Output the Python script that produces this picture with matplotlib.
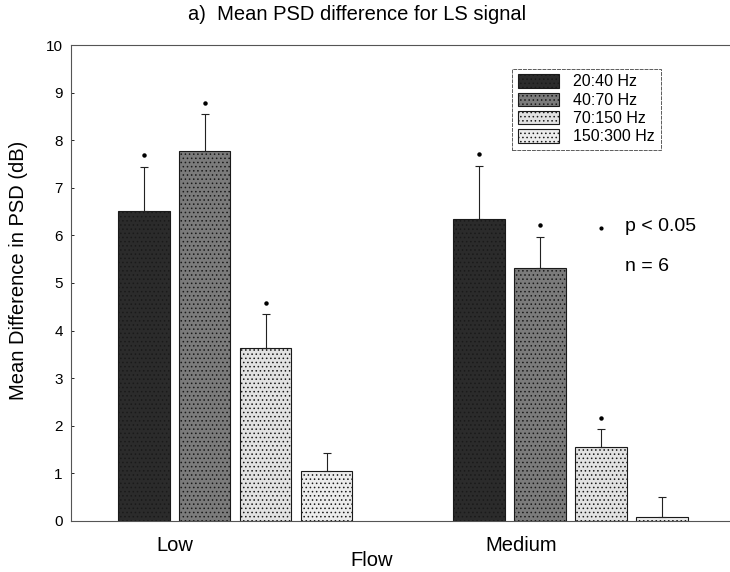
import numpy as np
import matplotlib.pyplot as plt

plt.rcParams['font.family'] = ['Liberation Sans', 'DejaVu Sans']

# mean PSD difference (dB) per band, for each flow level
flows = ['Low', 'Medium']
bands = ['20:40 Hz', '40:70 Hz', '70:150 Hz', '150:300 Hz']
low_mean = [6.52, 7.77, 3.63, 1.04]
low_err = [0.92, 0.78, 0.72, 0.38]
med_mean = [6.34, 5.31, 1.56, 0.09]
med_err = [1.12, 0.66, 0.37, 0.41]
low_sig = [True, True, True, False]
med_sig = [True, True, True, False]

faces = ['#2b2b2b', '#7b7b7b', '#e2e2e2', '#ececec']
hatches = ['....', '....', '....', '....']
hatch_cols = ['#5a5a5a', '#a5a5a5', '#9a9a9a', '#b0b0b0']

fig = plt.figure(figsize=(7.3, 5.72), dpi=100)
ax = fig.add_axes([0.0973, 0.0892, 0.9013, 0.8321])

pitch = 5.5  # distance between the two groups, in bar slots
means = [low_mean, med_mean]
errs = [low_err, med_err]
sigs = [low_sig, med_sig]

for g in range(len(flows)):
    xs = g * pitch + np.arange(len(bands))
    for i in range(len(bands)):
        plt.rcParams['hatch.color'] = hatch_cols[i]
        plt.rcParams['hatch.linewidth'] = 0.6
        ax.bar(xs[i], means[g][i], width=0.85, color=faces[i], hatch=hatches[i],
               edgecolor='#1a1a1a', linewidth=0.8,
               label=bands[i] if g == 0 else '_nolegend_', zorder=2)
        ax.errorbar(xs[i], means[g][i], yerr=[[0], [errs[g][i]]], fmt='none',
                    ecolor='#222222', elinewidth=0.8, capsize=3, capthick=0.8, zorder=3)
        if sigs[g][i]:
            ax.plot(xs[i], means[g][i] + errs[g][i] + 0.24, 'o', color='black',
                    markersize=2.2, zorder=4)

ax.set_ylim(0, 10)
ax.set_xlim(-1.19, 9.6)
ax.set_yticks(range(0, 11))
ax.tick_params(axis='y', direction='in', length=2, width=0.6, labelsize=11, pad=6)
ax.set_xticks([0.52, pitch + 0.69])
ax.set_xticklabels(flows, fontsize=14.5)
ax.tick_params(axis='x', length=0, pad=11)

for s in ['left', 'bottom', 'top']:
    ax.spines[s].set_color('#555555')
    ax.spines[s].set_linewidth(0.8)
ax.spines['top'].set_linestyle((0, (6, 1)))
ax.spines['left'].set_linestyle((0, (6, 1)))
ax.spines['right'].set_visible(False)

leg = ax.legend(loc='upper left', bbox_to_anchor=(0.658, 0.967), fontsize=11.5,
                frameon=True, fancybox=False, handlelength=2.6, handleheight=0.9,
                borderpad=0.35, labelspacing=0.2, handletextpad=0.9)
leg.get_frame().set_edgecolor('#333333')
leg.get_frame().set_linewidth(0.7)
leg.get_frame().set_linestyle((0, (4, 1)))

# significance note
ax.plot(pitch + 2.0, 6.16, 'o', color='black', markersize=2.0, clip_on=False)
ax.text(pitch + 2.4, 6.18, 'p < 0.05', fontsize=14, va='center', ha='left')
ax.text(pitch + 2.4, 5.34, 'n = 6', fontsize=14, va='center', ha='left')

fig.text(357 / 730, 1 - 14 / 572, 'a)  Mean PSD difference for LS signal',
         fontsize=14.5, ha='center', va='center')
fig.text(19 / 730, 1 - 270 / 572, 'Mean Difference in PSD (dB)', fontsize=14.5,
         rotation=90, ha='center', va='center')
fig.text(372 / 730, 1 - 561 / 572, 'Flow', fontsize=14.5, ha='center', va='center')

fig.savefig('out.png', dpi=100)
